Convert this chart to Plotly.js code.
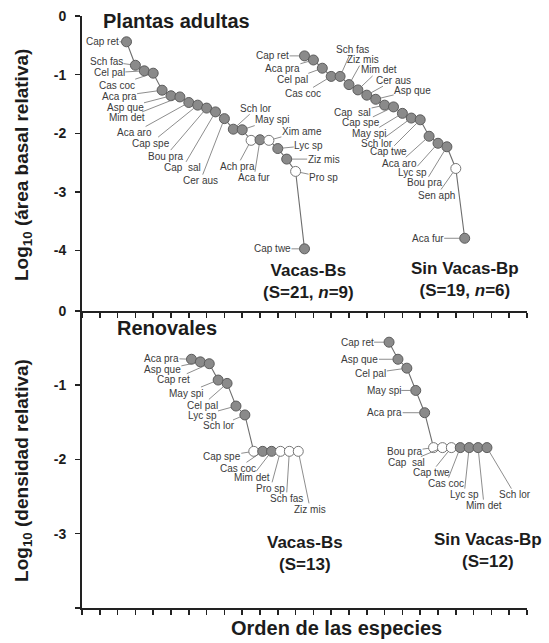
<!DOCTYPE html>
<html>
<head>
<meta charset="utf-8">
<script src="https://cdn.plot.ly/plotly-3.0.1.min.js"></script>
<style>html,body{margin:0;padding:0;background:#fff;}#chart{width:549px;height:643px;}</style>
</head>
<body>
<div id="chart"></div>
<script>
// ---------- DATA ----------
// Plantas adultas, Vacas-Bs
const spAdultCows = ['Cap ret','Sch fas','Cel pal','Cas coc','Aca pra','Asp que','Mim det','Aca aro','Cap spe','Bou pra','Cap  sal','Cer aus','Sch lor','May spi','Ach pra','Aca fur','Xim ame','Lyc sp','Ziz mis','Pro sp','Cap twe'];
const valAdultCows = [-0.44,-0.84,-0.935,-0.975,-1.265,-1.36,-1.38,-1.475,-1.52,-1.57,-1.635,-1.75,-1.93,-1.94,-2.12,-2.11,-2.12,-2.26,-2.44,-2.65,-3.97];
const filledAdultCows = [1,1,1,1,1,1,1,1,1,1,1,1,1,1,0,1,0,1,1,0,1];
// Plantas adultas, Sin Vacas-Bp
const spAdultNoCows = ['Cap ret','Aca pra','Cel pal','Cas coc','Sch fas','Ziz mis','Mim det','Cer aus','Asp que','Cap  sal','Cap spe','May spi','Sch lor','Cap twe','Aca aro','Lyc sp','Bou pra','Sen aph','Aca fur'];
const valAdultNoCows = [-0.68,-0.75,-0.89,-1.03,-1.03,-1.17,-1.26,-1.35,-1.42,-1.52,-1.55,-1.66,-1.74,-1.77,-2.05,-2.17,-2.23,-2.6,-3.79];
const filledAdultNoCows = [1,1,1,1,1,1,1,1,1,1,1,1,1,1,1,1,1,0,1];
// Renovales, Vacas-Bs
const spSeedCows = ['Aca pra','Asp que','Cap ret','May spi','Cel pal','Lyc sp','Sch lor','Cap spe','Cas coc','Mim det','Pro sp','Sch fas','Ziz mis'];
const valSeedCows = [-0.65,-0.685,-0.71,-0.93,-0.975,-1.28,-1.40,-1.89,-1.89,-1.89,-1.89,-1.89,-1.89];
const filledSeedCows = [1,1,1,1,1,1,1,0,1,1,0,0,0];
// Renovales, Sin Vacas-Bp
const spSeedNoCows = ['Cap ret','Asp que','Cel pal','May spi','Aca pra','Bou pra','Cap  sal','Cap twe','Cas coc','Lyc sp','Mim det','Sch lor'];
const valSeedNoCows = [-0.42,-0.65,-0.77,-1.07,-1.37,-1.84,-1.84,-1.84,-1.84,-1.84,-1.84,-1.84];
const filledSeedNoCows = [1,1,1,1,1,0,0,0,1,1,1,1];

const groupTitles = ['Vacas-Bs<br>(S=21, <i>n</i>=9)','Sin Vacas-Bp<br>(S=19, <i>n</i>=6)','Vacas-Bs<br>(S=13)','Sin Vacas-Bp<br>(S=12)'];
const panelTitles = ['Plantas adultas','Renovales'];
const yTickValsTop = [0,-1,-2,-3,-4];
const yTickTextTop = ['0','-1','-2','-3','-4'];
const yTickValsBot = [0,-1,-2,-3,-4];
const yTickTextBot = ['0','-1','-2','-3',' '];

// ---------- LAYOUT / POSITIONS ----------
const FONT = '"Liberation Sans", Arial, Helvetica, sans-serif';
const series = [
  {sp: spAdultCows, v: valAdultCows, f: filledAdultCows, start: 5, xa: 'x', ya: 'y',
   off: [[-24,0],[-29,-4],[-35,2],[-36,12],[-43,6],[-46,12],[-53,21],[-54,30],[-47,38],[-41,48],[-33,56],[-24,62],[23,-21],[30,-10],[-14,26],[-6,38],[33,-9],[31,-3],[37,0],[28,6],[-32,0]]},
  {sp: spAdultNoCows, v: valAdultNoCows, f: filledAdultNoCows, start: 25, xa: 'x', ya: 'y',
   off: [[-32,0],[-31,9],[-30,11],[-28,17],[12,-27],[14,-25],[21,-20],[27,-15],[37,-9],[-32,7],[-33,16],[-33,20],[-34,25],[-32,32],[-30,27],[-26,29],[-22,36],[-19,27],[-37,0]]},
  {sp: spSeedCows, v: valSeedCows, f: filledSeedCows, start: 12.3, xa: 'x2', ya: 'y2',
   off: [[-30,-1],[-38,8],[-36,16],[-32,13],[-25,22],[-33,9],[-26,11],[-32,5],[-25,17],[-20,26],[-10,37],[-3,47],[12,58]]},
  {sp: spSeedNoCows, v: valSeedNoCows, f: filledSeedNoCows, start: 34.5, xa: 'x2', ya: 'y2',
   off: [[-32,0],[-38,0],[-36,5],[-32,0],[-40,0],[-29,4],[-36,15],[-20,25],[-14,36],[-5,47],[6,58],[28,47]]}
];

const traces = [];
const annotations = [];
series.forEach(s => {
  const xs = s.v.map((_, i) => s.start + i);
  traces.push({x: xs, y: s.v, xaxis: s.xa, yaxis: s.ya, mode: 'lines', type: 'scatter',
    line: {color: '#6e6e6e', width: 1.1}, hoverinfo: 'skip', showlegend: false, cliponaxis: false});
  traces.push({x: xs, y: s.v, xaxis: s.xa, yaxis: s.ya, mode: 'markers', type: 'scatter',
    text: s.sp, showlegend: false, cliponaxis: false,
    marker: {size: 10,
      color: s.f.map(k => k ? '#8a8a8a' : '#ffffff'),
      line: {color: s.f.map(k => k ? '#5c5c5c' : '#777777'), width: 1}}});
  s.sp.forEach((name, i) => {
    annotations.push({x: xs[i], y: s.v[i], xref: s.xa, yref: s.ya, text: name,
      showarrow: true, arrowhead: 0, arrowwidth: 0.8, arrowcolor: '#707070',
      ax: s.off[i][0], ay: s.off[i][1], standoff: 5, borderpad: 0,
      font: {family: FONT, size: 10, color: '#3a3a3a'}});
  });
});

const boldFont = (sz) => ({family: FONT, size: sz, color: '#1c1c1c', weight: 'bold'});
// panel titles
annotations.push({x: 2.1, y: -0.08, xref: 'x', yref: 'y', xanchor: 'left', yanchor: 'middle', showarrow: false, text: panelTitles[0], font: boldFont(20)});
annotations.push({x: 3.7, y: -0.23, xref: 'x2', yref: 'y2', xanchor: 'left', yanchor: 'middle', showarrow: false, text: panelTitles[1], font: boldFont(20)});
// group titles
const gpos = [[25.5,-4.53,'x','y'],[43.0,-4.49,'x','y'],[25.06,-3.27,'x2','y2'],[45.6,-3.23,'x2','y2']];
groupTitles.forEach((t, i) => {
  annotations.push({x: gpos[i][0], y: gpos[i][1], xref: gpos[i][2], yref: gpos[i][3], showarrow: false,
    xanchor: 'center', yanchor: 'middle', text: t, font: boldFont(17)});
});
// axis titles
annotations.push({x: -0.133, y: 0.748, xref: 'paper', yref: 'paper', textangle: -90, showarrow: false,
  xanchor: 'center', yanchor: 'middle', text: 'Log<sub>10</sub> (área basal relativa)', font: boldFont(19)});
annotations.push({x: -0.133, y: 0.233, xref: 'paper', yref: 'paper', textangle: -90, showarrow: false,
  xanchor: 'center', yanchor: 'middle', text: 'Log<sub>10</sub> (densidad relativa)', font: boldFont(19)});
annotations.push({x: 0.573, y: -0.034, xref: 'paper', yref: 'paper', showarrow: false,
  xanchor: 'center', yanchor: 'middle', text: 'Orden de las especies', font: boldFont(20)});

const xTicks = [];
for (let t = 0; t <= 50; t += 2) xTicks.push(t);
const xAxisBase = {range: [0, 50], tickvals: xTicks, showticklabels: false, ticks: 'outside', ticklen: 5,
  tickwidth: 1.5, tickcolor: '#222', showline: true, linewidth: 2, linecolor: '#222', showgrid: false, zeroline: false, fixedrange: true};
const yAxisBase = {ticks: 'outside', ticklen: 5, tickwidth: 1.5, tickcolor: '#222', showline: true, linewidth: 2,
  linecolor: '#222', showgrid: false, zeroline: false, ticklabelstandoff: 6,
  tickfont: {family: FONT, size: 14, color: '#1c1c1c', weight: 'bold'}};

const layout = {
  width: 549, height: 643,
  margin: {l: 82, r: 22, t: 16, b: 35},
  paper_bgcolor: '#ffffff', plot_bgcolor: '#ffffff',
  showlegend: false,
  xaxis: Object.assign({}, xAxisBase, {anchor: 'y'}),
  xaxis2: Object.assign({}, xAxisBase, {anchor: 'y2'}),
  yaxis: Object.assign({}, yAxisBase, {domain: [0.5017, 1], range: [-5.03, 0], tickvals: yTickValsTop, ticktext: yTickTextTop, anchor: 'x'}),
  yaxis2: Object.assign({}, yAxisBase, {domain: [0, 0.5017], range: [-4, 0], tickvals: yTickValsBot, ticktext: yTickTextBot, anchor: 'x2'}),
  annotations: annotations
};

Plotly.newPlot('chart', traces, layout, {displayModeBar: false, staticPlot: true});
</script>
</body>
</html>
